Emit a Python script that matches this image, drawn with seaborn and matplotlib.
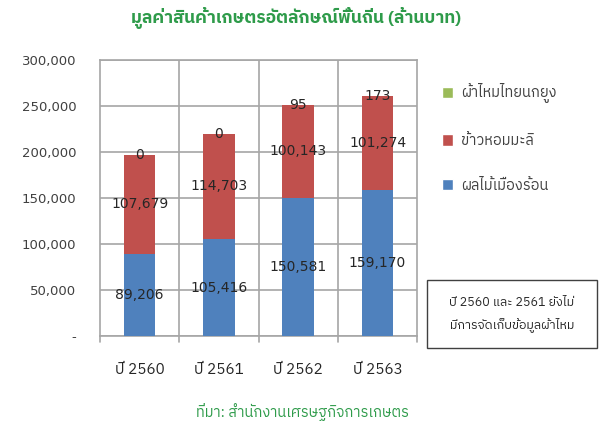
import matplotlib
matplotlib.use('Agg')
import matplotlib.pyplot as plt
from matplotlib import font_manager as fm
from matplotlib.patches import Patch, Rectangle
import seaborn as sns
import pandas as pd

# data (million baht)
years = ['ปี 2560', 'ปี 2561', 'ปี 2562', 'ปี 2563']
fruit = [89206, 105416, 150581, 159170]     # ผลไม้เมืองร้อน
rice = [107679, 114703, 100143, 101274]     # ข้าวหอมมะลิ
silk = [0, 0, 95, 173]                      # ผ้าไหมไทยนกยูง
series_names = ['ผ้าไหมไทยนกยูง', 'ข้าวหอมมะลิ', 'ผลไม้เมืองร้อน']
y_ticks = [0, 50000, 100000, 150000, 200000, 250000, 300000]

# find something that can draw Thai
thai = sorted({f.name for f in fm.fontManager.ttflist
               if any(k in f.name for k in ['Thai', 'Loma', 'Garuda', 'Kinnari', 'Sarabun', 'Tlwg', 'Norasi'])})
fams = thai + ['DejaVu Sans']

sns.set_style('white')
plt.rcParams['font.family'] = fams

blue, red, green = '#4F81BD', '#C0504D', '#9BBB59'
grid_c = '#A6A6A6'
txt_c = '#262626'

df = pd.DataFrame({'year': years, 'fruit': fruit, 'rice': rice, 'silk': silk})
df['rice_top'] = df['fruit'] + df['rice']
df['silk_top'] = df['rice_top'] + df['silk']

fig = plt.figure(figsize=(6.02, 4.26), dpi=100)
ax = fig.add_axes([0.166, 0.211, 0.527, 0.648])

# stacked bars by overlaying the cumulative totals
for col, c in [('silk_top', green), ('rice_top', red), ('fruit', blue)]:
    sns.barplot(data=df, x='year', y=col, color=c, saturation=1, width=0.4, ax=ax,
                linewidth=0, zorder=3)

ax.set_ylim(0, 300000)
ax.set_xlim(-0.5, 3.5)
ax.set_yticks(y_ticks)
ax.set_yticklabels(['-' if v == 0 else f'{v:,}' for v in y_ticks], fontsize=9.5, color='#404040',
                   family='DejaVu Sans')
ax.set_xticks(range(len(years)))
ax.set_xticklabels(years, fontsize=11, color=txt_c)
ax.tick_params(axis='x', length=0, pad=19)
ax.tick_params(axis='y', length=6, color=grid_c, direction='out', pad=11)
ax.set_xlabel('')
ax.set_ylabel('')

# excel-like grid
ax.yaxis.grid(True, color=grid_c, linewidth=1.2, zorder=0)
for b in [0.5, 1.5, 2.5]:
    ax.axvline(b, color=grid_c, linewidth=1.2, zorder=0)
for b in [-0.5, 0.5, 1.5, 2.5, 3.5]:
    ax.plot([b, b], [0, -0.02], transform=ax.get_xaxis_transform(), color=grid_c,
            linewidth=1.2, clip_on=False)
for s in ax.spines.values():
    s.set_color(grid_c)
    s.set_linewidth(1.2)

# value labels in the middle of each segment
for i in range(len(years)):
    ax.text(i, fruit[i] / 2, f'{fruit[i]:,}', ha='center', va='center', fontsize=10,
            color=txt_c, family='DejaVu Sans', zorder=5)
    ax.text(i, fruit[i] + rice[i] / 2, f'{rice[i]:,}', ha='center', va='center', fontsize=10,
            color=txt_c, family='DejaVu Sans', zorder=5)
    ax.text(i, fruit[i] + rice[i] + silk[i] / 2, f'{silk[i]:,}', ha='center', va='center',
            fontsize=10, color=txt_c, family='DejaVu Sans', zorder=5)

fig.text(0.492, 0.957, 'มูลค่าสินค้าเกษตรอัตลักษณ์พื้นถิ่น (ล้านบาท)', ha='center', va='center',
         fontsize=12.5, color='#2E9B4A', fontweight='bold')
fig.text(0.502, 0.032, 'ที่มา: สำนักงานเศรษฐกิจการเกษตร', ha='center', va='center',
         fontsize=10.5, color='#2E9B4A')

handles = [Patch(facecolor=c) for c in [green, red, blue]]
fig.legend(handles, series_names, loc='upper left', bbox_to_anchor=(0.712, 0.835), frameon=False,
           fontsize=10.5, labelspacing=2.1, handlelength=0.8, handleheight=0.8, handletextpad=0.5,
           labelcolor='#404040')

# note box
fig.patches.append(Rectangle((427 / 602, 1 - 348 / 426), 170 / 602, 68 / 426,
                             transform=fig.transFigure, facecolor='white', edgecolor='#404040',
                             linewidth=1))
fig.text(512 / 602, 1 - 314 / 426, 'ปี 2560 และ 2561 ยังไม่\nมีการจัดเก็บข้อมูลผ้าไหม', ha='center',
         va='center', fontsize=9, color=txt_c, linespacing=1.8)

fig.savefig('out.png', dpi=100)
